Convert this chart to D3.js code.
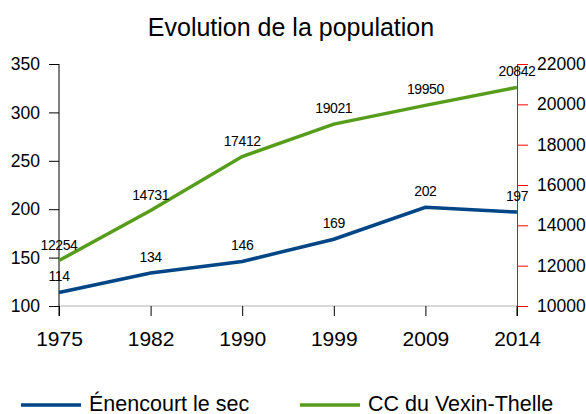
<!DOCTYPE html>
<html>
<head>
<meta charset="utf-8">
<script src="https://cdn.jsdelivr.net/npm/d3@7"></script>
<style>
  body { margin: 0; background: #fff; }
  text { font-family: "Liberation Sans", Arial, sans-serif; fill: #000; }
</style>
</head>
<body>
<div id="chart"></div>
<script>
// data
const years = ["1975", "1982", "1990", "1999", "2009", "2014"];
const enencourt = [114, 134, 146, 169, 202, 197];
const vexin = [12254, 14731, 17412, 19021, 19950, 20842];
const leftTicks = [100, 150, 200, 250, 300, 350];
const rightTicks = [10000, 12000, 14000, 16000, 18000, 20000, 22000];

const width = 586, height = 414;
const plotLeft = 59, plotRight = 517, plotTop = 64, plotBottom = 306;

const svg = d3.select("#chart").append("svg")
    .attr("width", width)
    .attr("height", height);

// scales
const x = d3.scalePoint(years, [plotLeft, plotRight]);
const yLeft = d3.scaleLinear([100, 350], [plotBottom, plotTop]);
const yRight = d3.scaleLinear([10000, 22000], [plotBottom, plotTop]);

// title
svg.append("text")
    .attr("x", 291)
    .attr("y", 36)
    .attr("text-anchor", "middle")
    .style("font-size", "25px")
    .text("Evolution de la population");

// x axis baseline (grey)
svg.append("line")
    .attr("x1", plotLeft).attr("x2", plotRight)
    .attr("y1", plotBottom).attr("y2", plotBottom)
    .style("stroke", "#b3b3b3")
    .style("stroke-width", 1);

// x axis ticks + labels
const xAxis = d3.axisBottom(x).tickSize(10).tickPadding(15);
const gx = svg.append("g")
    .attr("transform", `translate(0,${plotBottom})`)
    .call(xAxis);
gx.select(".domain").remove();
gx.selectAll("line").style("stroke", "#000");
gx.selectAll("text")
    .style("font-size", "21px")
    .style("font-family", "Liberation Sans, Arial, sans-serif");

// left axis
const gl = svg.append("g")
    .attr("transform", `translate(${plotLeft},0)`)
    .call(d3.axisLeft(yLeft).tickValues(leftTicks).tickSize(10).tickSizeOuter(0).tickPadding(9));
gl.select(".domain").attr("d", `M0,${plotTop}V${plotBottom + 10}`).style("stroke", "#000");
gl.selectAll("line").style("stroke", "#000");
gl.selectAll("text")
    .style("font-size", "17.5px")
    .style("font-family", "Liberation Sans, Arial, sans-serif");

// right axis (red)
const gr = svg.append("g")
    .attr("transform", `translate(${plotRight},0)`)
    .call(d3.axisRight(yRight).tickValues(rightTicks).tickSize(11).tickSizeOuter(0).tickPadding(9)
        .tickFormat(d3.format("d")));
gr.select(".domain").style("stroke", "#ff0000");
gr.selectAll("line").style("stroke", "#ff0000");
gr.selectAll("text")
    .style("font-size", "17.5px")
    .style("font-family", "Liberation Sans, Arial, sans-serif");

// black tick under the right end of x axis
svg.append("line")
    .attr("x1", plotRight).attr("x2", plotRight)
    .attr("y1", plotBottom).attr("y2", plotBottom + 10)
    .style("stroke", "#000");

// lines
const lineLeft = d3.line()
    .x((d, i) => x(years[i]))
    .y(d => yLeft(d));
const lineRight = d3.line()
    .x((d, i) => x(years[i]))
    .y(d => yRight(d));

svg.append("path")
    .datum(vexin)
    .attr("d", lineRight)
    .style("fill", "none")
    .style("stroke", "#579d1c")
    .style("stroke-width", 3.5);

svg.append("path")
    .datum(enencourt)
    .attr("d", lineLeft)
    .style("fill", "none")
    .style("stroke", "#004586")
    .style("stroke-width", 3.5);

// data labels
svg.selectAll("text.lblL")
    .data(enencourt)
    .enter()
    .append("text")
    .attr("class", "lblL")
    .attr("x", (d, i) => x(years[i]))
    .attr("y", d => yLeft(d) - 11)
    .attr("text-anchor", "middle")
    .style("font-size", "14px")
    .style("letter-spacing", "-0.4px")
    .text(d => d);

svg.selectAll("text.lblR")
    .data(vexin)
    .enter()
    .append("text")
    .attr("class", "lblR")
    .attr("x", (d, i) => x(years[i]))
    .attr("y", d => yRight(d) - 11)
    .attr("text-anchor", "middle")
    .style("font-size", "14px")
    .style("letter-spacing", "-0.4px")
    .text(d => d);

// legend
const legend = [
    { name: "Énencourt le sec", color: "#004586", x: 21 },
    { name: "CC du Vexin-Thelle", color: "#579d1c", x: 300 }
];
const lg = svg.selectAll("g.legend")
    .data(legend)
    .enter()
    .append("g")
    .attr("class", "legend")
    .attr("transform", d => `translate(${d.x},405)`);
lg.append("line")
    .attr("x1", 0).attr("x2", 60)
    .attr("y1", 0).attr("y2", 0)
    .style("stroke", d => d.color)
    .style("stroke-width", 3.5);
lg.append("text")
    .attr("x", 68)
    .attr("y", 6)
    .style("font-size", "21.5px")
    .text(d => d.name);
</script>
</body>
</html>
